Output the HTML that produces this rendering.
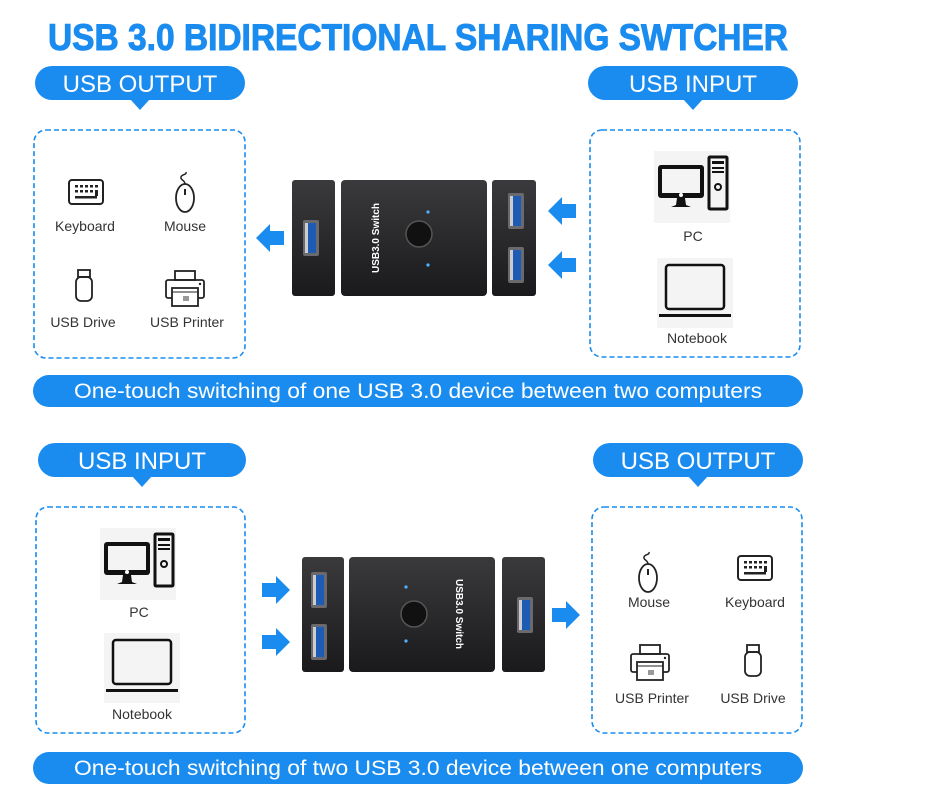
<!DOCTYPE html>
<html><head><meta charset="utf-8"><style>
html,body{margin:0;padding:0;background:#fff;}
svg{display:block;font-family:"Liberation Sans",sans-serif;}
.lbl{font-size:14px;fill:#333;text-anchor:middle;}
.pill{font-size:24px;fill:#fff;text-anchor:middle;}
.ban{font-size:21px;fill:#fff;text-anchor:middle;}
</style></head><body>
<svg width="950" height="800" viewBox="0 0 950 800" xmlns="http://www.w3.org/2000/svg">
<defs>
 <linearGradient id="dev" x1="0" y1="0" x2="0" y2="1"><stop offset="0" stop-color="#3a3a3c"/><stop offset="1" stop-color="#1a1a1c"/></linearGradient>
 <g id="kb"><rect x="-17" y="-12" width="34" height="24" rx="3" fill="none" stroke="#222" stroke-width="2"/>
  <g fill="#222"><rect x="-11" y="-7" width="3" height="2.5"/><rect x="-6" y="-7" width="3" height="2.5"/><rect x="-1" y="-7" width="3" height="2.5"/><rect x="4" y="-7" width="3" height="2.5"/><rect x="9" y="-7" width="3" height="2.5"/>
  <rect x="-11" y="-2" width="3" height="2.5"/><rect x="-6" y="-2" width="3" height="2.5"/><rect x="-1" y="-2" width="3" height="2.5"/><rect x="4" y="-2" width="3" height="2.5"/><rect x="9" y="-2" width="3" height="6"/>
  <rect x="-11" y="4" width="22" height="2.5"/></g></g>
 <g id="ms"><ellipse cx="0" cy="4" rx="9" ry="14" fill="none" stroke="#222" stroke-width="1.8"/><line x1="0" y1="-5" x2="0" y2="1" stroke="#222" stroke-width="2"/><path d="M0,-10 C0,-14 -5,-14 -4,-17 C-3,-20 2,-19 1,-22" fill="none" stroke="#222" stroke-width="1.5"/></g>
 <g id="dr"><rect x="-6" y="-15" width="12" height="7" fill="none" stroke="#222" stroke-width="1.8"/><rect x="-8" y="-8" width="16" height="24" rx="5" fill="none" stroke="#222" stroke-width="1.8"/></g>
 <g id="pr"><rect x="-10" y="-17" width="20" height="9" fill="none" stroke="#222" stroke-width="1.8"/><rect x="-19" y="-8" width="38" height="18" rx="2" fill="none" stroke="#222" stroke-width="1.8"/><rect x="-13" y="0" width="26" height="18" fill="#fff" stroke="#222" stroke-width="1.8"/><line x1="-13" y1="4" x2="13" y2="4" stroke="#222" stroke-width="1"/><rect x="-2" y="8" width="6" height="5" fill="#999"/><circle cx="15" cy="-4" r="1.2" fill="#222"/></g>
 <g id="pc"><rect x="-38" y="-34" width="76" height="72" fill="#f4f4f4"/><rect x="-34" y="-20" width="46" height="33" rx="3" fill="#111"/><rect x="-30" y="-16" width="38" height="24" fill="#f4f4f4"/><circle cx="-11" cy="10" r="2" fill="#fff"/><path d="M-15,13 L-7,13 L-6,20 L-1,22 L-21,22 L-16,20 Z" fill="#111"/>
  <rect x="17" y="-28" width="18" height="52" rx="1" fill="none" stroke="#111" stroke-width="3"/><rect x="20" y="-24" width="12" height="3" fill="#111"/><rect x="20" y="-18" width="12" height="2" fill="#111"/><rect x="20" y="-14" width="12" height="2" fill="#111"/><circle cx="26" cy="2" r="3" fill="none" stroke="#111" stroke-width="2"/></g>
 <g id="nb"><rect x="-38" y="-32" width="76" height="70" fill="#f4f4f4"/><rect x="-29" y="-25" width="58" height="44" rx="3" fill="none" stroke="#111" stroke-width="2.5"/><rect x="-36" y="24" width="72" height="3" fill="#111"/></g>
 <g id="port"><rect x="-8" y="-18" width="16" height="36" rx="2" fill="#6a6a6e"/><rect x="-5" y="-15" width="10" height="30" fill="#1e5bb5"/><rect x="-6" y="-15" width="3" height="30" fill="#ccc"/></g>
 <g id="ar"><path d="M-14,-7 L0,-7 L0,-14 L14,0 L0,14 L0,7 L-14,7 Z" fill="#1a8cf0"/></g>
</defs>

<text x="48" y="50" font-size="37" font-weight="bold" fill="#1a8cf0" stroke="#1a8cf0" stroke-width="1" textLength="740" lengthAdjust="spacingAndGlyphs">USB 3.0 BIDIRECTIONAL SHARING SWTCHER</text>

<rect x="35" y="66" width="210" height="34" rx="17" fill="#1a8cf0"/><path d="M130,99 L140,110 L150,99Z" fill="#1a8cf0"/>
<text x="140" y="92" class="pill">USB OUTPUT</text>
<rect x="34" y="130" width="211" height="228" rx="12" fill="none" stroke="#1a8cf0" stroke-width="1.6" stroke-dasharray="5,3"/>
<use href="#kb" x="86" y="192"/><text x="85" y="231" class="lbl">Keyboard</text>
<use href="#ms" x="185" y="194"/><text x="185" y="231" class="lbl">Mouse</text>
<use href="#dr" x="84" y="285"/><text x="83" y="327" class="lbl">USB Drive</text>
<use href="#pr" x="185" y="288"/><text x="187" y="327" class="lbl">USB Printer</text>

<rect x="588" y="66" width="210" height="34" rx="17" fill="#1a8cf0"/><path d="M683,99 L693,110 L703,99Z" fill="#1a8cf0"/>
<text x="693" y="92" class="pill">USB INPUT</text>
<rect x="590" y="130" width="210" height="227" rx="12" fill="none" stroke="#1a8cf0" stroke-width="1.6" stroke-dasharray="5,3"/>
<use href="#pc" x="692" y="185"/><text x="693" y="241" class="lbl">PC</text>
<use href="#nb" x="695" y="290"/><text x="697" y="343" class="lbl">Notebook</text>

<rect x="292" y="180" width="43" height="116" rx="3" fill="url(#dev)"/><use href="#port" x="311" y="238"/>
<rect x="341" y="180" width="146" height="116" rx="4" fill="url(#dev)"/>
<circle cx="419" cy="234" r="13" fill="#111" stroke="#555" stroke-width="1.5"/><circle cx="428" cy="212" r="1.6" fill="#4fb3ff"/><circle cx="428" cy="265" r="1.6" fill="#4fb3ff"/>
<text transform="translate(379,238) rotate(-90)" font-size="10" font-weight="bold" fill="#fff" text-anchor="middle">USB3.0 Switch</text>
<rect x="492" y="180" width="44" height="116" rx="3" fill="url(#dev)"/><use href="#port" x="516" y="211"/><use href="#port" x="516" y="265"/>
<use href="#ar" transform="translate(270,238) rotate(180)"/>
<use href="#ar" transform="translate(562,211) rotate(180)"/>
<use href="#ar" transform="translate(562,265) rotate(180)"/>

<rect x="33" y="375" width="770" height="32" rx="16" fill="#1a8cf0"/>
<text x="418" y="398" class="ban" textLength="688" lengthAdjust="spacingAndGlyphs">One-touch switching of one USB 3.0 device between two computers</text>

<rect x="38" y="443" width="208" height="34" rx="17" fill="#1a8cf0"/><path d="M132,476 L142,487 L152,476Z" fill="#1a8cf0"/>
<text x="142" y="469" class="pill">USB INPUT</text>
<rect x="36" y="507" width="209" height="226" rx="12" fill="none" stroke="#1a8cf0" stroke-width="1.6" stroke-dasharray="5,3"/>
<use href="#pc" x="138" y="562"/><text x="139" y="617" class="lbl">PC</text>
<use href="#nb" x="142" y="665"/><text x="142" y="719" class="lbl">Notebook</text>

<rect x="593" y="443" width="210" height="34" rx="17" fill="#1a8cf0"/><path d="M688,476 L698,487 L708,476Z" fill="#1a8cf0"/>
<text x="698" y="469" class="pill">USB OUTPUT</text>
<rect x="592" y="507" width="210" height="226" rx="12" fill="none" stroke="#1a8cf0" stroke-width="1.6" stroke-dasharray="5,3"/>
<use href="#ms" x="648" y="574"/><text x="649" y="607" class="lbl">Mouse</text>
<use href="#kb" x="755" y="568"/><text x="755" y="607" class="lbl">Keyboard</text>
<use href="#pr" x="650" y="662"/><text x="652" y="703" class="lbl">USB Printer</text>
<use href="#dr" x="753" y="660"/><text x="753" y="703" class="lbl">USB Drive</text>

<rect x="302" y="557" width="42" height="115" rx="3" fill="url(#dev)"/><use href="#port" x="319" y="590"/><use href="#port" x="319" y="642"/>
<rect x="349" y="557" width="146" height="115" rx="4" fill="url(#dev)"/>
<circle cx="414" cy="614" r="13" fill="#111" stroke="#555" stroke-width="1.5"/><circle cx="406" cy="587" r="1.6" fill="#4fb3ff"/><circle cx="406" cy="641" r="1.6" fill="#4fb3ff"/>
<text transform="translate(456,614) rotate(90)" font-size="10" font-weight="bold" fill="#fff" text-anchor="middle">USB3.0 Switch</text>
<rect x="502" y="557" width="43" height="115" rx="3" fill="url(#dev)"/><use href="#port" x="525" y="615"/>
<use href="#ar" x="276" y="590"/>
<use href="#ar" x="276" y="642"/>
<use href="#ar" x="566" y="615"/>

<rect x="33" y="752" width="770" height="32" rx="16" fill="#1a8cf0"/>
<text x="418" y="775" class="ban" textLength="688" lengthAdjust="spacingAndGlyphs">One-touch switching of two USB 3.0 device between one computers</text>
</svg>
</body></html>
